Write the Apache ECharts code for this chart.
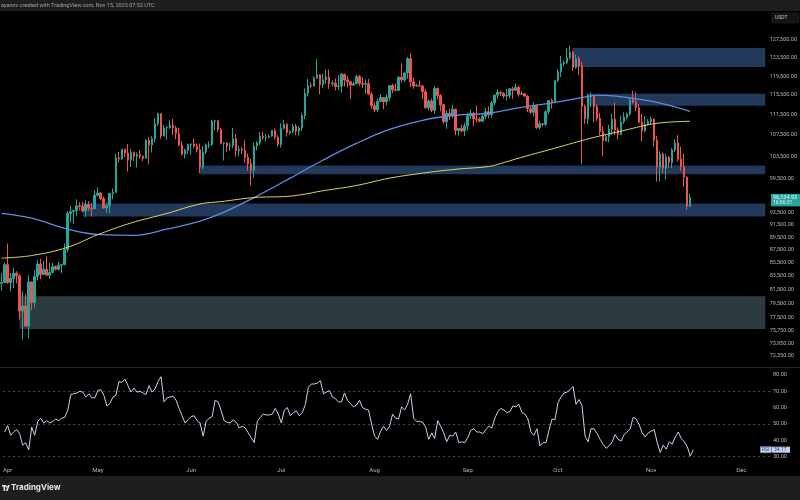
<!DOCTYPE html>
<html><head><meta charset="utf-8">
<script src="https://cdn.jsdelivr.net/npm/echarts@6/dist/echarts.min.js"></script>
<style>html,body{margin:0;padding:0;background:#000;}#c{width:800px;height:500px;}</style>
</head><body><div id="c"></div>
<script>
// ---- DATA (prices in thousands USDT) ----
const startDate = '2025-03-31';
const totalDays = 255; // axis runs to Dec 10
// candles: [open, close, low, high]
const candles = [
[82.4,82.5,81.3,83.9],
[82.5,85.2,82.4,85.5],[85.2,82.5,82.3,88.5],[82.5,83.1,81.2,83.9],[83.1,83.9,81.7,84.7],[83.9,83.5,82.4,84.2],
[83.5,78.4,77.2,83.8],[78.4,79.1,74.5,81.2],[79.1,76.3,76.2,80.8],[76.3,82.6,74.6,83.6],[82.6,79.6,78.5,82.7],
[79.6,83.4,78.9,84.3],[83.4,85.3,82.8,85.9],[85.3,83.7,83.0,86.1],[83.7,84.5,83.7,85.8],[84.5,83.6,83.6,86.5],
[83.6,84.0,83.1,85.5],[84.0,84.9,83.9,85.5],[84.9,84.5,84.3,85.1],[84.5,85.1,84.3,85.6],[85.1,85.2,83.9,85.3],
[85.2,87.5,85.1,88.5],[87.5,93.4,87.1,93.8],[93.4,93.7,91.9,94.7],[93.7,93.9,91.7,94.0],[93.9,94.7,92.9,95.8],
[94.7,94.6,93.9,95.3],[94.6,93.8,93.6,95.4],[93.8,94.9,92.8,95.6],[94.9,94.3,93.8,95.5],[94.3,94.2,92.9,95.2],
[94.2,96.5,94.1,97.4],[96.5,96.9,96.3,97.9],[96.9,95.9,95.7,97.0],[95.9,94.3,94.2,96.3],[94.3,94.7,93.5,95.2],
[94.7,96.8,93.4,96.9],[96.8,97.0,95.8,97.7],[97.0,103.2,96.9,104.0],[103.2,103.0,102.3,104.3],[103.0,104.8,102.8,104.9],
[104.8,104.1,103.3,104.9],[104.1,102.8,100.7,105.8],[102.8,104.2,101.5,104.9],[104.2,103.5,102.6,104.4],[103.5,103.8,101.4,104.2],
[103.8,103.5,103.1,104.6],[103.5,103.1,102.6,103.7],[103.1,106.5,103.1,106.7],[106.5,105.6,102.0,107.1],[105.6,106.8,104.2,107.3],
[106.8,109.7,106.1,110.8],[109.7,111.7,109.3,111.9],[111.7,107.3,106.8,111.8],[107.3,108.9,107.3,109.5],[108.9,109.0,106.6,109.3],
[109.0,109.4,108.7,110.4],[109.4,108.9,107.5,110.7],[108.9,107.8,106.7,109.3],[107.8,105.6,105.3,108.9],[105.6,103.9,103.6,106.3],
[103.9,104.6,103.1,104.9],
[104.6,105.7,103.9,105.9],[105.7,105.8,103.7,105.9],[105.8,105.4,105.0,106.8],[105.4,104.7,104.2,105.9],[104.7,101.5,100.4,105.9],
[101.5,104.3,101.1,105.4],[104.3,105.6,103.9,105.9],[105.6,105.7,105.0,106.3],[105.7,110.2,105.4,110.5],[110.2,110.3,108.4,110.4],
[110.3,108.6,108.1,110.4],[108.6,105.9,105.7,108.9],[105.9,106.0,102.7,106.2],[106.0,105.4,104.3,106.2],[105.4,105.5,104.5,106.1],
[105.5,106.8,105.0,108.9],[106.8,104.5,103.4,107.7],[104.5,104.8,103.5,105.5],[104.8,104.6,103.9,105.2],[104.6,103.3,102.3,106.5],
[103.3,102.1,100.8,104.0],[102.1,100.9,98.2,103.0],[100.9,105.4,99.6,106.1],[105.4,106.0,104.6,106.3],[106.0,107.3,105.6,108.1],
[107.3,107.0,106.6,108.2],[107.0,107.1,106.3,107.8],[107.1,107.3,106.9,107.6],[107.3,108.4,107.2,108.5],[108.4,107.1,106.7,108.8],
[107.1,105.7,105.3,107.5],[105.7,108.8,105.1,109.8],[108.8,109.6,108.6,110.5],[109.6,108.0,107.2,109.8],[108.0,108.2,107.5,108.4],
[108.2,109.2,107.8,109.7],[109.2,108.3,107.5,109.7],[108.3,108.9,107.4,109.2],[108.9,111.3,108.3,111.9],[111.3,115.9,110.6,116.9],
[115.9,117.5,115.2,118.9],[117.5,117.4,116.9,118.2],[117.4,119.1,117.3,119.5],[119.1,119.8,118.9,123.2],[119.8,117.7,115.7,119.9],
[117.7,118.7,117.0,120.0],[118.7,119.3,117.8,120.9],[119.3,117.9,116.8,120.9],[117.9,118.0,117.3,118.6],[118.0,117.3,116.5,119.0],
[117.3,117.4,116.5,119.7],[117.4,119.9,116.1,120.2],[119.9,118.7,117.3,120.0],[118.7,118.3,117.1,119.5],[118.3,117.6,114.7,118.5],
[117.6,117.9,117.4,118.3],[117.9,119.4,117.8,119.8],[119.4,118.0,117.4,119.8],[118.0,117.8,117.0,119.3],[117.8,117.9,115.8,118.8],
[117.9,115.7,115.5,118.9],
[115.7,113.3,112.7,116.1],[113.3,112.5,112.0,114.0],[112.5,114.2,112.0,114.8],[114.2,115.0,114.1,115.7],[115.0,114.1,112.6,115.1],
[114.1,115.0,113.4,115.7],[115.0,117.5,114.3,117.6],[117.5,116.6,115.9,117.9],[116.6,116.5,116.3,117.9],[116.5,119.3,116.4,119.4],
[119.3,118.7,118.1,122.3],[118.7,120.2,118.2,120.3],[120.2,123.3,118.9,123.7],[123.3,118.3,117.2,124.5],[118.3,117.4,116.8,119.2],
[117.4,117.5,117.2,117.9],[117.5,117.4,117.3,118.6],[117.4,116.2,114.7,117.6],[116.2,112.9,112.7,116.8],[112.9,114.3,112.4,114.6],
[114.3,112.4,112.0,114.8],[112.4,116.9,111.7,117.4],[116.9,115.4,114.6,117.0],[115.4,113.5,112.2,115.7],[113.5,110.1,109.7,113.7],
[110.1,111.8,108.7,112.4],[111.8,111.3,110.4,112.7],[111.3,112.6,110.9,113.5],[112.6,108.4,107.5,112.7],[108.4,108.8,107.4,108.9],
[108.8,108.3,108.1,109.5],
[108.3,109.3,107.3,109.9],[109.3,111.3,108.4,111.8],[111.3,111.8,110.6,112.6],[111.8,110.7,109.3,112.0],[110.7,110.6,110.0,113.4],
[110.6,110.2,110.0,111.0],[110.2,111.2,110.0,111.5],[111.2,112.1,110.6,112.9],[112.1,111.5,110.8,113.2],[111.5,113.9,110.9,114.3],
[113.9,115.5,113.4,115.6],[115.5,116.1,114.8,116.7],[116.1,115.9,115.3,116.3],[115.9,115.3,114.8,116.1],[115.3,115.4,114.4,116.8],
[115.4,116.8,114.8,117.0],[116.8,116.5,114.7,117.3],[116.5,117.1,116.4,117.9],[117.1,115.7,115.2,117.5],[115.7,115.8,115.5,116.3],
[115.8,115.3,115.2,115.9],[115.3,112.7,112.0,115.5],[112.7,112.0,111.6,113.3],[112.0,113.3,111.1,114.0],[113.3,109.0,108.7,113.6],
[109.0,109.7,108.6,110.3],[109.7,109.6,109.1,109.8],[109.6,112.1,109.2,112.4],[112.1,114.4,111.6,114.5],[114.4,114.0,112.7,114.8],
[114.0,118.6,113.9,118.7],[118.6,120.5,118.2,121.0],[120.5,122.2,119.3,123.9],[122.2,122.4,121.6,122.9],[122.4,123.5,122.1,125.7],
[123.5,124.7,123.1,126.2],[124.7,121.4,120.6,125.1],[121.4,123.3,121.1,124.2],[123.3,121.7,119.7,123.8],[121.7,113.2,102.0,122.6],
[113.2,110.7,109.7,113.6],[110.7,115.2,109.6,115.8],[115.2,115.3,113.0,116.0],[115.3,113.1,110.0,115.5],[113.1,110.8,110.2,113.6],
[110.8,108.2,107.5,111.9],[108.2,106.4,103.5,109.2],[106.4,107.2,106.3,107.5],[107.2,108.6,106.1,109.5],[108.6,110.6,107.5,111.7],
[110.6,108.5,107.5,114.0],[108.5,107.6,106.7,109.0],[107.6,110.1,107.5,111.3],[110.1,111.0,109.7,112.0],[111.0,111.6,110.6,111.9],
[111.6,114.5,111.3,115.0],[114.5,114.1,113.8,116.4],[114.1,112.9,112.2,116.1],[112.9,110.0,109.8,113.6],[110.0,108.3,106.3,111.6],
[108.3,109.6,108.1,111.2],
[109.6,110.1,109.4,110.6],[110.1,110.6,109.5,111.2],[110.6,106.5,105.3,110.8],[106.5,101.5,98.9,107.3],[101.5,103.9,98.9,104.5],
[103.9,101.3,100.3,104.2],[101.3,103.3,99.3,104.0],[103.3,102.3,101.4,103.5],[102.3,104.7,101.3,105.0],[104.7,106.0,104.3,106.7],
[106.0,103.0,102.5,107.5],[103.0,101.6,100.8,105.3],[101.6,99.7,98.0,104.0],[99.7,94.6,94.0,99.8],[94.6,96.135,94.5,96.8]
];
const blueMA = [['2025-03-31',93.4],['2025-04-10',92.6],['2025-04-22',90.8],['2025-05-03',89.9],['2025-05-14',89.8],
['2025-05-25',90.8],['2025-06-05',92.1],['2025-06-12',93.4],['2025-06-23',96.1],['2025-07-05',99.5],['2025-07-16',102.8],
['2025-07-27',105.9],['2025-08-07',108.6],['2025-08-18',110.4],['2025-08-29',111.4],['2025-09-09',111.8],['2025-09-20',113.0],
['2025-10-01',114.0],['2025-10-11',115.1],['2025-10-15',115.5],['2025-10-24',115.1],['2025-11-04',114.0],['2025-11-15',112.2]];
const yellowMA = [['2025-03-31',86.2],['2025-04-10',86.6],['2025-04-22',87.9],['2025-05-02',89.9],['2025-05-13',91.8],
['2025-05-25',93.4],['2025-06-05',95.0],['2025-06-12',95.4],['2025-06-23',96.1],['2025-07-04',96.3],['2025-07-10',96.7],
['2025-07-15',97.2],['2025-07-27',98.2],['2025-08-07',99.5],['2025-08-18',100.4],['2025-08-29',101.1],['2025-09-09',101.6],
['2025-09-12',102.0],['2025-09-20',103.3],['2025-10-01',105.0],['2025-10-13',106.9],['2025-10-24',108.4],['2025-11-04',109.8],
['2025-11-15',110.2]];
const rsi = [
45,49,43,45,46.5,44,37,38.5,34,48,43,51.5,53.5,50.5,52,50.5,51.5,53,52,53.5,
54,58.5,68,68.5,69,70,69.5,66.5,68.5,66,66,70.5,71,67.5,61,62.5,66.5,67.5,76,75.5,
77.5,73.5,69.5,72,69.5,70,69,68,73.5,69.5,71.5,76,79,63.5,66,66.5,67,64.5,59.5,55,
50.5,52.5,54.5,55,52,50.5,42.5,51.5,53.5,54.5,64.5,63.5,58,52,51,50.5,52.5,51,47.5,48.5,
47.5,44.5,41.5,38.5,51.5,54,56,55.5,55.5,56,59.5,56,50.5,58.5,60,55,57,58,55,57,
62,72.5,74.5,74.5,75,76.5,68.5,69.5,70.5,66.5,65.5,63.5,63.5,69,64.5,62.5,60.5,61.5,64.5,60,
59,58.5,50,42.5,40.5,45.5,48.5,46,48.5,56,53.5,53,60.5,58.5,62,68.5,53.5,51.5,51.5,51,
48,40.5,44.5,41,52,48.5,44.5,39,43,42.5,45,38.5,39,38.5,41.5,46,47,45,45,44,
46.5,48.5,47.5,53.5,57.5,59.5,58.5,57,57.5,61,60.5,62,57,56,53,45,43,47,36.5,38.5,
38.5,46,53,52.5,63,66.5,69,69.5,71,73,62,65,61,42.5,39,47,47,44,40.5,37.5,
35,36.5,39,43.5,40.5,39.5,43.5,45,47,54,53,49.5,44.5,42,44.5,45.5,46.5,38.5,32.5,37,
34.5,39,37.5,42,45,41,39,36,30.2,34.17
];
const zones = [
  {from:'2025-10-07', top:125.7, bottom:121.45, color:'#21395a'},
  {from:'2025-10-12', top:115.8, bottom:113.3, color:'#21395a'},
  {from:'2025-06-05', top:101.8, bottom:100.2, color:'#21395a'},
  {from:'2025-04-27', top:95.1, bottom:92.9, color:'#21395a'},
  {from:'2025-04-06', top:80.5, bottom:75.9, color:'#2b3b3f'}
];
const priceTicks = [127500,123500,119500,115500,111500,107500,103500,99500,93500,91500,89500,87500,85500,83500,81500,79500,77500,75750,73950,72350];
const rsiTicks = [30,40,50,60,70,80];
const rsiBands = [70,50,30];
const monthNames = ['Jan','Feb','Mar','Apr','May','Jun','Jul','Aug','Sep','Oct','Nov','Dec'];
const lastPriceText = '96,134.93';
const countdownText = '16:06:21';
const rsiText = '34.17';
const headerText = 'ayannv created with TradingView.com, Nov 15, 2025 07:53 UTC';

// ---- build ----
const categories = [];
const t0 = Date.parse(startDate + 'T00:00:00Z');
for (let i = 0; i < totalDays; i++) categories.push(new Date(t0 + i * 86400000).toISOString().slice(0, 10));
const L = v => Math.log(v * 1000);
const candleData = candles.map(r => r.map(L));
const fmt = v => v.toLocaleString('en-US', {minimumFractionDigits: 2, maximumFractionDigits: 2});
const lastCat = categories[categories.length - 1];
const FONT = 'Roboto, "DejaVu Sans", sans-serif';
const labelColor = '#b2b5be';

const chart = echarts.init(document.getElementById('c'));
chart.setOption({
  backgroundColor: '#000000',
  animation: false,
  grid: [
    {left: 0, right: 30, top: 12, height: 355},
    {left: 0, right: 30, top: 368, height: 95}
  ],
  xAxis: [
    {type: 'category', gridIndex: 0, data: categories, boundaryGap: true,
     axisLine: {show: false}, axisTick: {show: false}, axisLabel: {show: false}, splitLine: {show: false}},
    {type: 'category', gridIndex: 1, data: categories, boundaryGap: true,
     axisLine: {show: false}, axisTick: {show: false}, splitLine: {show: false},
     axisLabel: {show: true, color: labelColor, fontSize: 6, fontFamily: FONT, margin: 4,
       interval: (i, v) => v.slice(8) === '01',
       formatter: v => monthNames[parseInt(v.slice(5, 7), 10) - 1]}}
  ],
  yAxis: [
    {type: 'value', gridIndex: 0, position: 'right', min: Math.log(70900), max: Math.log(134080), scale: true,
     axisLine: {show: false}, axisTick: {show: false}, splitLine: {show: false},
     axisLabel: {show: true, color: labelColor, fontSize: 5.5, fontFamily: FONT, margin: 3,
       customValues: priceTicks.map(p => Math.log(p)),
       formatter: v => fmt(Math.round(Math.exp(v)))}},
    {type: 'value', gridIndex: 1, position: 'right', min: 26, max: 84.3,
     axisLine: {show: false}, axisTick: {show: false}, splitLine: {show: false},
     axisLabel: {show: true, color: labelColor, fontSize: 5.5, fontFamily: FONT, margin: 3,
       customValues: rsiTicks, formatter: v => v.toFixed(2)}}
  ],
  series: [
    {type: 'line', xAxisIndex: 0, yAxisIndex: 0, z: 1, data: [], silent: true,
     markArea: {silent: true,
       data: zones.map(zn => [
         {xAxis: zn.from, yAxis: L(zn.top), itemStyle: {color: zn.color, opacity: 1}},
         {xAxis: lastCat, yAxis: L(zn.bottom)}
       ])}},
    {type: 'candlestick', xAxisIndex: 0, yAxisIndex: 0, data: candleData, barWidth: 2, z: 5,
     itemStyle: {color: '#26a69a', color0: '#ef5350', borderColor: '#26a69a', borderColor0: '#ef5350', borderWidth: 1}},
    {type: 'line', xAxisIndex: 0, yAxisIndex: 0, z: 6, smooth: 0.4, showSymbol: false,
     data: blueMA.map(d => [d[0], L(d[1])]), lineStyle: {color: '#5b8de0', width: 1.3}},
    {type: 'line', xAxisIndex: 0, yAxisIndex: 0, z: 6, smooth: 0.4, showSymbol: false,
     data: yellowMA.map(d => [d[0], L(d[1])]), lineStyle: {color: '#e3d15f', width: 1}},
    {type: 'line', xAxisIndex: 1, yAxisIndex: 1, z: 6, showSymbol: false, data: rsi,
     lineStyle: {color: '#c9d1ec', width: 1},
     markLine: {silent: true, symbol: 'none', label: {show: false},
       lineStyle: {color: '#4a4a4a', type: [2, 3], width: 1},
       data: rsiBands.map(b => ({yAxis: b}))}}
  ]
});

const yp = chart.convertToPixel({yAxisIndex: 0}, L(candles[candles.length - 1][1]));
const yr = chart.convertToPixel({yAxisIndex: 1}, rsi[rsi.length - 1]);
chart.setOption({
  graphic: [
    {type: 'rect', left: 0, top: 0, shape: {width: 800, height: 11}, style: {fill: '#1e1e1e'}, z: 10},
    {type: 'text', x: 1, y: 5.5, style: {text: headerText, fill: '#a0a0a0', fontSize: 5.5, fontFamily: FONT, verticalAlign: 'middle'}, z: 11},
    {type: 'rect', shape: {x: 772, y: 13, width: 27, height: 10, r: 1.5}, style: {fill: '#141414', stroke: '#2e2e2e', lineWidth: 0.5}, z: 10},
    {type: 'text', x: 775, y: 18, style: {text: 'USDT', fill: '#c8c8c8', fontSize: 5, fontFamily: FONT, verticalAlign: 'middle'}, z: 11},
    {type: 'line', shape: {x1: 0, y1: 367.5, x2: 800, y2: 367.5}, style: {stroke: '#2a2a2a', lineWidth: 1}, z: 10},
    {type: 'rect', shape: {x: 771, y: yp - 3.5, width: 29, height: 12.5}, style: {fill: '#26a69a'}, z: 10},
    {type: 'text', x: 773, y: yp, style: {text: lastPriceText, fill: '#ffffff', fontSize: 5.5, fontFamily: FONT, verticalAlign: 'middle'}, z: 11},
    {type: 'text', x: 773, y: yp + 5.5, style: {text: countdownText, fill: '#e6f6f3', fontSize: 5, fontFamily: FONT, verticalAlign: 'middle'}, z: 11},
    {type: 'rect', shape: {x: 760.5, y: yr - 3, width: 10.5, height: 6}, style: {fill: '#c7d5f0', stroke: '#8aa4d8', lineWidth: 0.5}, z: 10},
    {type: 'text', x: 762, y: yr, style: {text: 'RSI', fill: '#24407a', fontSize: 5, fontFamily: FONT, verticalAlign: 'middle'}, z: 11},
    {type: 'rect', shape: {x: 771.5, y: yr - 3, width: 18.5, height: 6}, style: {fill: '#c7d5f0'}, z: 10},
    {type: 'text', x: 774, y: yr, style: {text: rsiText, fill: '#24407a', fontSize: 5, fontFamily: FONT, verticalAlign: 'middle'}, z: 11},
    {type: 'rect', shape: {x: 0, y: 476, width: 800, height: 24}, style: {fill: '#1e1e1e'}, z: 10},
    {type: 'rect', shape: {x: 2, y: 485, width: 4, height: 1.6}, style: {fill: '#e8e8e8'}, z: 11},
    {type: 'rect', shape: {x: 3.6, y: 485, width: 1.6, height: 6}, style: {fill: '#e8e8e8'}, z: 11},
    {type: 'circle', shape: {cx: 6.6, cy: 486.6, r: 0.9}, style: {fill: '#e8e8e8'}, z: 11},
    {type: 'polygon', shape: {points: [[8, 485], [9.8, 485], [7.6, 491], [5.9, 491]]}, style: {fill: '#e8e8e8'}, z: 11},
    {type: 'text', x: 11, y: 488, style: {text: 'TradingView', fill: '#e8e8e8', fontSize: 8, fontWeight: 'bold', fontFamily: 'Inter, Roboto, sans-serif', verticalAlign: 'middle'}, z: 11}
  ]
});
</script></body></html>
